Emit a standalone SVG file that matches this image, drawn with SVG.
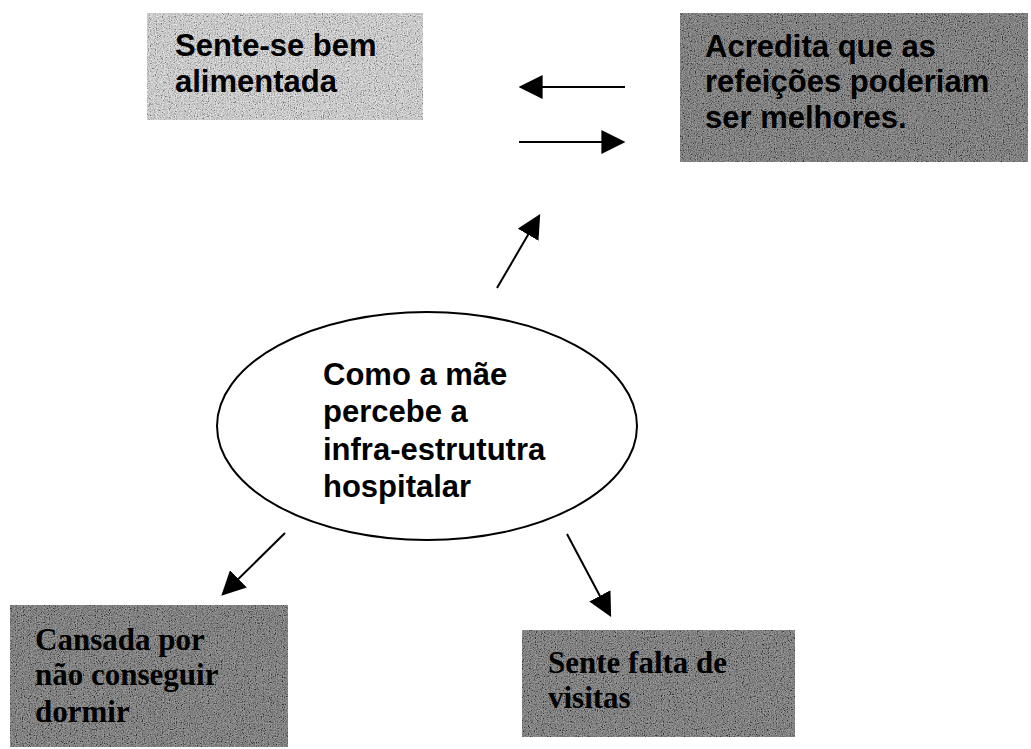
<svg xmlns="http://www.w3.org/2000/svg" width="1031" height="749" viewBox="0 0 1031 749">
  <defs>
    <filter id="grain" x="0" y="0" width="100%" height="100%" filterUnits="objectBoundingBox">
      <feTurbulence type="fractalNoise" baseFrequency="0.85" numOctaves="2" seed="7" result="n"/>
      <feColorMatrix type="saturate" values="0" in="n" result="g"/>
      <feComponentTransfer in="g">
        <feFuncR type="linear" slope="2.8" intercept="-0.9"/>
        <feFuncG type="linear" slope="2.8" intercept="-0.9"/>
        <feFuncB type="linear" slope="2.8" intercept="-0.9"/>
        <feFuncA type="linear" slope="0" intercept="1"/>
      </feComponentTransfer>
    </filter>
    <marker id="head" viewBox="0 0 10 10" refX="9" refY="5" markerWidth="12" markerHeight="12" markerUnits="strokeWidth" orient="auto">
      <path d="M0,0 L10,5 L0,10 z" fill="#000"/>
    </marker>
    <style>
      .sans { font-family: "Liberation Sans", Arial, sans-serif; font-weight: bold; font-size: 31px; fill: #000; }
      .serif { font-family: "Liberation Serif", "Times New Roman", serif; font-weight: bold; font-size: 31px; fill: #000; }
      .light { fill: #d4d4d4; }
      .dark { fill: #585858; }
      .noise { opacity: 0.42; }
      .conn line { stroke: #000; stroke-width: 2; marker-end: url(#head); }
    </style>
  </defs>
  <rect width="1031" height="749" fill="#fff"/>

  <g id="node-alimentada">
    <rect class="light" x="147" y="13" width="276" height="107"/>
    <rect class="noise" x="147" y="13" width="276" height="107" filter="url(#grain)"/>
    <text class="sans" x="175" y="56">Sente-se bem</text>
    <text class="sans" x="175" y="92">alimentada</text>
  </g>

  <g id="node-refeicoes">
    <rect class="dark" x="680" y="13" width="348" height="149"/>
    <rect class="noise" x="680" y="13" width="348" height="149" filter="url(#grain)"/>
    <text class="sans" x="705" y="57">Acredita que as</text>
    <text class="sans" x="705" y="92">refeições poderiam</text>
    <text class="sans" x="705" y="128">ser melhores.</text>
  </g>

  <g id="node-center">
    <ellipse cx="427" cy="426" rx="210" ry="114" fill="#fff" stroke="#000" stroke-width="2"/>
    <text class="sans" x="323" y="385" font-size="30">Como a mãe</text>
    <text class="sans" x="323" y="422" font-size="30">percebe a</text>
    <text class="sans" x="323" y="460" font-size="30">infra-estrututra</text>
    <text class="sans" x="323" y="497" font-size="30">hospitalar</text>
  </g>

  <g id="node-cansada">
    <rect class="dark" x="10" y="605" width="278" height="142"/>
    <rect class="noise" x="10" y="605" width="278" height="142" filter="url(#grain)"/>
    <text class="serif" x="35" y="650">Cansada por</text>
    <text class="serif" x="35" y="685">não conseguir</text>
    <text class="serif" x="35" y="722">dormir</text>
  </g>

  <g id="node-visitas">
    <rect class="dark" x="522" y="630" width="273" height="107"/>
    <rect class="noise" x="522" y="630" width="273" height="107" filter="url(#grain)"/>
    <text class="serif" x="548" y="673">Sente falta de</text>
    <text class="serif" x="548" y="708">visitas</text>
  </g>

  <g id="connectors" class="conn">
    <line x1="625" y1="87" x2="521" y2="87"/>
    <line x1="519" y1="142" x2="623" y2="142"/>
    <line x1="497" y1="288" x2="539" y2="216"/>
    <line x1="285" y1="533" x2="223" y2="594"/>
    <line x1="567" y1="534" x2="610" y2="615"/>
  </g>
</svg>
